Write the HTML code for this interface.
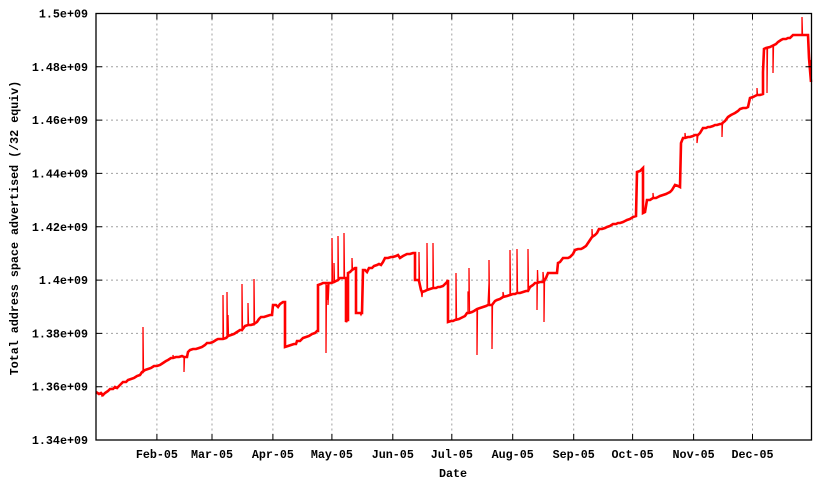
<!DOCTYPE html>
<html><head><meta charset="utf-8"><style>
html,body{margin:0;padding:0;background:#fff;}
svg{display:block;}
text{font-family:"Liberation Mono","DejaVu Sans Mono",monospace;font-weight:bold;font-size:11.7px;fill:#000;}
</style></head><body>
<svg width="831" height="480" viewBox="0 0 831 480" xmlns="http://www.w3.org/2000/svg">
<rect x="0" y="0" width="831" height="480" fill="#fff"/>
<g stroke="#a0a0a0" stroke-width="1" stroke-dasharray="2,3" fill="none">
<line x1="96" y1="66.8" x2="811.5" y2="66.8"/>
<line x1="96" y1="120.1" x2="811.5" y2="120.1"/>
<line x1="96" y1="173.4" x2="811.5" y2="173.4"/>
<line x1="96" y1="226.8" x2="811.5" y2="226.8"/>
<line x1="96" y1="280.1" x2="811.5" y2="280.1"/>
<line x1="96" y1="333.4" x2="811.5" y2="333.4"/>
<line x1="96" y1="386.7" x2="811.5" y2="386.7"/>
<line x1="156.9" y1="13.5" x2="156.9" y2="440"/>
<line x1="212" y1="13.5" x2="212" y2="440"/>
<line x1="272.9" y1="13.5" x2="272.9" y2="440"/>
<line x1="331.9" y1="13.5" x2="331.9" y2="440"/>
<line x1="392.8" y1="13.5" x2="392.8" y2="440"/>
<line x1="451.8" y1="13.5" x2="451.8" y2="440"/>
<line x1="512.7" y1="13.5" x2="512.7" y2="440"/>
<line x1="573.7" y1="13.5" x2="573.7" y2="440"/>
<line x1="632.6" y1="13.5" x2="632.6" y2="440"/>
<line x1="693.6" y1="13.5" x2="693.6" y2="440"/>
<line x1="752.5" y1="13.5" x2="752.5" y2="440"/>
</g>
<path fill="none" stroke="#ff0000" stroke-width="1.3" stroke-linejoin="miter" d="M96,392 L99,394 L101,393 L102,396 L103,395 L105,393 L108,391 L110,389 L113,389 L115,387 L117,388 L119,386 L121,384 L123,382 L126,382 L128,380 L131,379 L134,378 L137,376 L140,375 L142,372 L143,372 L143,327 L143.5,372 L145,370 L148,369 L151,368 L154,366 L157,366 L160,365 L163,363 L166,361 L168,360 L171,358 L173,358 L173,355 L173.5,358 L176,357 L179,357 L182,356 L184,357 L184,372 L184.5,357 L187,357 L188,352 L190,350 L193,349 L196,349 L199,348 L202,347 L205,345 L207,343 L210,343 L213,342 L216,340 L218,339 L221,339 L223,339 L223,295 L223.5,339 L226,338 L227,338 L227,292 L227.5,338 L228,315 L228.5,336 L231,335 L234,334 L237,332 L240,330 L242,330 L242,284 L242.5,330 L245,326 L248,325 L248,303 L248.5,325 L251,325 L254,325 L254,279 L254.5,323 L257,322 L259,319 L261,317 L264,317 L267,316 L270,315 L272,315 L273,305 L276,305 L278,307 L280,304 L283,302 L285,302 L285,347 L288,346 L291,345 L294,344 L296,344 L297,341 L300,341 L303,338 L306,337 L309,336 L312,334 L315,333 L317,331 L318,331 L318,285 L321,284 L323,283 L325,283 L326,283 L326,353 L326.5,285 L327,300 L328,283 L328,305 L329,283 L331,283 L332,283 L332,238 L332.5,283 L334,282 L334,263 L334.5,282 L336,281 L338,280 L338,236 L338.5,280 L340,278 L344,278 L344,233 L344.5,278 L346,278 L346,322 L347,320 L348,320 L348,273 L350,272 L352,270 L352,258 L352.5,270 L355,268 L356,268 L356,313 L360,313 L361,315 L362,313 L363,270 L365,270 L367,272 L369,268 L372,268 L374,266 L377,265 L379,264 L381,265 L383,262 L385,258 L388,258 L391,257 L393,257 L396,256 L398,255 L400,258 L403,256 L405,255 L407,254 L410,254 L413,253 L415,253 L415,280 L418,280 L419,280 L419,252 L419.5,282 L421,290 L422,297 L422.5,292 L425,291 L427,290 L427,243 L427.5,290 L430,289 L433,288 L433,243 L433.5,288 L436,288 L438,287 L440,287 L443,286 L445,284 L447,282 L448,280 L448,322 L451,321 L453,321 L455,320 L456,320 L456,273 L456.5,320 L459,319 L461,318 L463,317 L465,316 L467,313 L468,313 L468,292 L469,292 L469,268 L469.5,313 L472,312 L474,311 L477,309 L477,355 L477.5,309 L480,308 L483,307 L486,306 L488,305 L489,283 L489,260 L489.5,305 L490,305 L492,305 L492,349 L492.5,304 L495,301 L497,300 L500,299 L503,297 L503,292 L504,297 L507,296 L510,295 L510,250 L510.5,295 L513,294 L515,294 L517,293 L517,249 L517.5,293 L520,293 L523,292 L526,291 L528,291 L528,249 L528.5,291 L530,287 L533,285 L535,283 L537,283 L537,310 L537.5,270 L538,283 L540,282 L543,282 L543,272 L544,282 L544,322 L544.5,282 L546,278 L548,273 L551,273 L554,273 L557,273 L558,263 L560,262 L563,258 L566,258 L568,258 L570,257 L573,254 L575,250 L578,249 L581,249 L583,248 L586,246 L588,243 L590,240 L592,237 L592,229 L592.5,237 L595,235 L597,233 L599,229 L602,229 L605,228 L607,227 L610,226 L613,224 L616,224 L618,223 L620,223 L623,222 L625,221 L627,220 L630,219 L633,217 L636,216 L637,172 L640,171 L643,168 L643,213 L645,212 L647,200 L650,200 L653,198 L653,193 L653.5,198 L656,198 L658,197 L660,196 L663,195 L666,194 L668,193 L670,192 L672,190 L675,185 L678,186 L680,187 L681,143 L683,138 L685,138 L685,133 L685.5,137 L688,137 L690,137 L693,136 L695,135 L697,135 L697,143 L698,135 L700,133 L703,128 L706,128 L708,127 L710,127 L713,126 L715,125 L717,125 L720,124 L722,124 L722,137 L722.5,123 L725,121 L728,117 L731,115 L733,114 L735,113 L738,111 L740,109 L743,108 L746,108 L748,107 L750,98 L753,97 L755,96 L757,95 L757,88 L757.5,95 L760,95 L763,94 L763,72 L764,49 L766,48 L767,48 L767,93 L767.5,48 L770,47 L772,46 L773,46 L773,73 L773.5,46 L776,44 L778,42 L781,40 L783,39 L786,39 L788,38 L790,38 L792,36 L793,35 L796,35 L799,35 L802,35 L802,17 L802.5,35 L805,35 L808,35 L809,58 L810,70 L810.5,60 L811,82"/>
<path fill="none" stroke="#ff0000" stroke-width="2.6" stroke-linejoin="miter" d="M96,392 L99,394 L101,393 L103,395 L105,393 L108,391 L110,389 L113,389 L115,387 L117,388 L119,386 L121,384 L123,382 L126,382 L128,380 L131,379 L134,378 L137,376 L140,375 L142,372 L145,370 L148,369 L151,368 L154,366 L157,366 L160,365 L163,363 L166,361 L168,360 L171,358 L173,358 L176,357 L179,357 L182,356 L184,357 L187,357 L188,352 L190,350 L193,349 L196,349 L199,348 L202,347 L205,345 L207,343 L210,343 L213,342 L216,340 L218,339 L221,339 L223,339 L226,338 L228,336 L231,335 L234,334 L237,332 L240,330 L242,330 L245,326 L248,325 L251,325 L254,324 L257,322 L259,319 L261,317 L264,317 L267,316 L270,315 L272,315 L273,305 L276,305 L278,307 L280,304 L283,302 L285,302 L285,347 L288,346 L291,345 L294,344 L296,344 L297,341 L300,341 L303,338 L306,337 L309,336 L312,334 L315,333 L317,331 L318,331 L318,285 L321,284 L323,283 L326,283 L331,283 L334,282 L336,281 L338,280 L340,278 L344,278 L346,278 L346,322 L347,320 L348,320 L348,273 L350,272 L352,270 L355,268 L356,268 L356,313 L360,313 L362,313 L363,270 L365,270 L367,272 L369,268 L372,268 L374,266 L377,265 L379,264 L381,265 L383,262 L385,258 L388,258 L391,257 L393,257 L396,256 L398,255 L400,258 L403,256 L405,255 L407,254 L410,254 L413,253 L415,253 L415,280 L418,280 L419,281 L421,290 L422,292 L425,291 L427,290 L430,289 L433,288 L436,288 L438,287 L440,287 L443,286 L445,284 L447,282 L448,280 L448,322 L451,321 L453,321 L455,320 L459,319 L461,318 L463,317 L465,316 L467,313 L469,313 L472,312 L474,311 L477,309 L480,308 L483,307 L486,306 L488,305 L492,305 L495,301 L497,300 L500,299 L503,297 L507,296 L510,295 L513,294 L515,294 L517,293 L520,293 L523,292 L526,291 L528,291 L530,287 L533,285 L535,283 L537,283 L540,282 L543,282 L546,278 L548,273 L551,273 L554,273 L557,273 L558,263 L560,262 L563,258 L566,258 L568,258 L570,257 L573,254 L575,250 L578,249 L581,249 L583,248 L586,246 L588,243 L590,240 L592,237 L595,235 L597,233 L599,229 L602,229 L605,228 L607,227 L610,226 L613,224 L616,224 L618,223 L620,223 L623,222 L625,221 L627,220 L630,219 L633,217 L636,216 L637,172 L640,171 L643,168 L643,213 L645,212 L647,200 L650,200 L653,198 L656,198 L658,197 L660,196 L663,195 L666,194 L668,193 L670,192 L672,190 L675,185 L678,186 L680,187 L681,143 L683,138 L685,138 L688,137 L690,137 L693,136 L695,135 L697,135 L698,135 L700,133 L703,128 L706,128 L708,127 L710,127 L713,126 L715,125 L717,125 L720,124 L722,124 L722.5,123 L725,121 L728,117 L731,115 L733,114 L735,113 L738,111 L740,109 L743,108 L746,108 L748,107 L750,98 L753,97 L755,96 L757,95 L760,95 L763,94 L763,72 L764,49 L766,48 L770,47 L772,46 L776,44 L778,42 L781,40 L783,39 L786,39 L788,38 L790,38 L792,36 L793,35 L796,35 L799,35 L802,35 L805,35 L808,35 L809,58 L810,70 L811,82"/>
<g stroke="#000" stroke-width="1" fill="none">
<rect x="96" y="13.5" width="715.5" height="426.5" stroke-width="1.3"/>
<path d="M96,66.8h6M96,120.1h6M96,173.4h6M96,226.8h6M96,280.1h6M96,333.4h6M96,386.7h6
M811.5,66.8h-6M811.5,120.1h-6M811.5,173.4h-6M811.5,226.8h-6M811.5,280.1h-6M811.5,333.4h-6M811.5,386.7h-6
M156.9,440v-6M212,440v-6M272.9,440v-6M331.9,440v-6M392.8,440v-6M451.8,440v-6M512.7,440v-6M573.7,440v-6M632.6,440v-6M693.6,440v-6M752.5,440v-6
M156.9,13.5v6M212,13.5v6M272.9,13.5v6M331.9,13.5v6M392.8,13.5v6M451.8,13.5v6M512.7,13.5v6M573.7,13.5v6M632.6,13.5v6M693.6,13.5v6M752.5,13.5v6"/>
</g>
<g text-anchor="end">
<text x="88" y="17.5">1.5e+09</text>
<text x="88" y="70.8">1.48e+09</text>
<text x="88" y="124.1">1.46e+09</text>
<text x="88" y="177.4">1.44e+09</text>
<text x="88" y="230.8">1.42e+09</text>
<text x="88" y="284.1">1.4e+09</text>
<text x="88" y="337.4">1.38e+09</text>
<text x="88" y="390.7">1.36e+09</text>
<text x="88" y="444">1.34e+09</text>
</g>
<g text-anchor="middle">
<text x="156.9" y="458">Feb-05</text>
<text x="212" y="458">Mar-05</text>
<text x="272.9" y="458">Apr-05</text>
<text x="331.9" y="458">May-05</text>
<text x="392.8" y="458">Jun-05</text>
<text x="451.8" y="458">Jul-05</text>
<text x="512.7" y="458">Aug-05</text>
<text x="573.7" y="458">Sep-05</text>
<text x="632.6" y="458">Oct-05</text>
<text x="693.6" y="458">Nov-05</text>
<text x="752.5" y="458">Dec-05</text>
<text x="453" y="477">Date</text>
<text x="0" y="0" transform="translate(18,228) rotate(-90)">Total address space advertised (/32 equiv)</text>
</g>
</svg>
</body></html>
